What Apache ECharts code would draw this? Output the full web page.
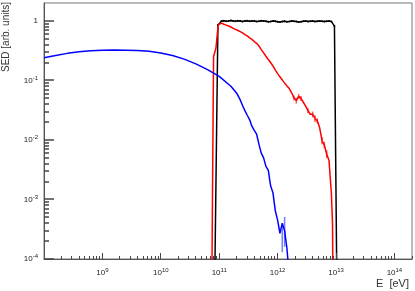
<!DOCTYPE html>
<html><head><meta charset="utf-8">
<script src="https://cdn.jsdelivr.net/npm/echarts@6/dist/echarts.min.js"></script>
<style>html,body{margin:0;padding:0;background:#fff}#c{width:415px;height:291px}</style>
</head><body><div id="c"></div>
<script>
// shared energy grid (eV), 0.04 dex spacing from 1.1e11 to 8.3e12
const gridEnergy = [1.096e11,1.202e11,1.318e11,1.445e11,1.585e11,1.738e11,1.905e11,2.089e11,2.291e11,2.512e11,2.754e11,3.020e11,3.311e11,3.631e11,3.981e11,4.365e11,4.786e11,5.248e11,5.754e11,6.310e11,6.918e11,7.586e11,8.318e11,9.120e11,
  1.000e12,1.096e12,1.202e12,1.318e12,1.445e12,1.585e12,1.738e12,1.905e12,2.089e12,2.291e12,2.512e12,2.754e12,3.020e12,3.311e12,3.631e12,3.981e12,4.365e12,4.786e12,5.248e12,5.754e12,6.310e12,6.918e12,7.586e12,8.318e12];
const blackValues = [1.00,1.01,0.99,1.00,1.02,1.00,0.99,1.01,1.00,0.98,1.00,1.01,0.99,1.00,1.00,0.98,0.99,1.01,1.00,0.99,0.97,0.98,1.00,0.99,
  0.97,0.96,0.98,0.99,0.97,0.98,1.00,0.99,0.98,0.96,0.97,0.99,1.00,0.98,0.99,1.00,0.98,0.99,1.00,0.99,0.98,0.99,1.00,0.98];
const blackLead = [[8.0e10,1e-6],[9.5e10,0.85]];
const blackTail = [[9.4e12,0.82],[1.07e13,1e-6]];

const redValues = [0.92,0.88,0.85,0.82,0.79,0.75,0.72,0.69,0.66,0.63,0.59,0.56,0.52,0.49,0.45,0.42,0.38,0.33,0.29,0.255,0.225,0.20,0.175,0.15,
  0.13,0.115,0.102,0.090,0.081,0.073,0.062,0.051,0.046,0.054,0.050,0.043,0.037,0.031,0.027,0.027,0.023,0.021,0.016,0.0098,0.0082,0.0058,0.0045,0.0013];
const redLead = [[7.4e10,1e-5],[8.0e10,0.25],[8.8e10,0.35],[9.6e10,0.86]];
const redTail = [[8.71e12,0.0004],[9.12e12,1e-6]];
const redErrors = [[1.905e12,0.046,0.056],[2.089e12,0.041,0.051],[2.291e12,0.049,0.059],[2.512e12,0.045,0.055],[3.311e12,0.028,0.034],
  [3.981e12,0.024,0.030],[4.365e12,0.020,0.026],[4.786e12,0.019,0.023],[5.754e12,0.0085,0.0112],[6.310e12,0.0072,0.0093],[6.918e12,0.0050,0.0067]];

const blueEnergy = [1.0e8,1.585e8,2.512e8,3.981e8,6.310e8,1e9,1.585e9,2.512e9,3.981e9,6.310e9,1e10,1.585e10,2.512e10,3.981e10,6.310e10,1e11,1.585e11,1.995e11,2.291e11,
  2.512e11,2.754e11,3.020e11,3.311e11,3.631e11,3.981e11,4.365e11,4.786e11,5.248e11,5.754e11,6.310e11,6.918e11,7.586e11,8.318e11,9.120e11,1.000e12,1.096e12,1.202e12,1.318e12,1.445e12,1.585e12];
const blueValues = [0.240,0.262,0.285,0.303,0.316,0.322,0.324,0.323,0.319,0.308,0.290,0.262,0.228,0.190,0.152,0.117,0.080,0.061,0.047,
  0.038,0.031,0.026,0.022,0.017,0.0145,0.0125,0.0085,0.0060,0.0050,0.0036,0.0031,0.0017,0.0013,0.00065,0.00045,0.00027,0.00040,0.00030,0.00015,0.00005];
const blueErrors = [[1.202e12,1.3e-4,3.7e-4],[1.318e12,1.6e-4,5.1e-4]];

const X_MIN = 1e8, X_MAX = 2e14, Y_MIN = 1e-4, Y_MAX = 2;
const xMajorVals = [1e9, 1e10, 1e11, 1e12, 1e13, 1e14];
const yMajorVals = [1e-4, 1e-3, 1e-2, 1e-1, 1];

const xMinorVals = [], yMinorVals = [];
for (let n = 8; n <= 13; n++) for (let k = 2; k <= 9; k++) xMinorVals.push(k * Math.pow(10, n));
xMinorVals.push(2e14);
for (let n = -4; n <= -1; n++) for (let k = 2; k <= 9; k++) yMinorVals.push(k * Math.pow(10, n));

const pair = (xs, ys) => xs.map((x, i) => [x, ys[i]]);
const blackData = blackLead.concat(pair(gridEnergy, blackValues), blackTail);
const redData = redLead.concat(pair(gridEnergy, redValues), redTail);
const blueData = pair(blueEnergy, blueValues);

const FONT = 'Liberation Sans, Arial, Helvetica, sans-serif';
const TICK = '#444';

function fmt(v) {
  const e = Math.round(Math.log10(v));
  if (e === 0) return '1';
  return '10{sup|' + e + '}';
}
const richLab = { sup: { fontSize: 6, fontFamily: FONT, color: '#222', padding: [0, 0, 5, 0], verticalAlign: 'bottom' } };

function errSeries(data, color) {
  return {
    type: 'custom', silent: true, z: 3, data: data,
    encode: { x: 0, y: [1, 2] },
    renderItem: function (params, api) {
      const a = api.coord([api.value(0), api.value(1)]);
      const b = api.coord([api.value(0), api.value(2)]);
      return { type: 'line', shape: { x1: a[0], y1: a[1], x2: b[0], y2: b[1] }, style: { stroke: color, lineWidth: 1.5 } };
    }
  };
}

const titles = [
  { type: 'text', x: 6, y: 2, rotation: Math.PI / 2, silent: true,
    style: { text: 'SED [arb. units]', fontSize: 10, fontFamily: FONT, fill: '#333', align: 'right', verticalAlign: 'middle' } },
  { type: 'text', x: 409, y: 284, silent: true,
    style: { text: 'E  [eV]', fontSize: 11, fontFamily: FONT, fill: '#333', align: 'right', verticalAlign: 'middle' } }
];

const chart = echarts.init(document.getElementById('c'), null, { renderer: 'canvas' });
chart.setOption({
  animation: false,
  backgroundColor: '#fff',
  grid: { left: 44, top: 3, width: 368, height: 256, show: true, borderColor: '#777', borderWidth: 1,
    containLabel: false, outerBoundsMode: 'none' },
  xAxis: {
    type: 'log', logBase: 10, min: X_MIN, max: X_MAX, interval: 1,
    axisLine: { show: true, lineStyle: { color: '#555', width: 1 } },
    axisTick: { show: false },
    splitLine: { show: false },
    axisLabel: { show: true, margin: 8, fontSize: 8, fontFamily: FONT, color: '#222', showMinLabel: false, showMaxLabel: false,
      formatter: fmt, rich: richLab }
  },
  yAxis: {
    type: 'log', logBase: 10, min: Y_MIN, max: Y_MAX, interval: 1,
    axisLine: { show: true, lineStyle: { color: '#555', width: 1 } },
    axisTick: { show: false },
    splitLine: { show: false },
    axisLabel: { show: true, margin: 6, fontSize: 8, fontFamily: FONT, color: '#222', showMinLabel: true, showMaxLabel: false,
      formatter: fmt, rich: richLab }
  },
  series: [
    { type: 'line', data: blackData, showSymbol: true, symbol: 'circle', symbolSize: 2, itemStyle: { color: '#000' },
      lineStyle: { color: '#000', width: 1.5 }, z: 2, silent: true },
    errSeries(redErrors, '#ff5050'),
    { type: 'line', data: redData, showSymbol: false, lineStyle: { color: '#ff0000', width: 1.5 }, z: 3, silent: true },
    errSeries(blueErrors, '#6f7fff'),
    { type: 'line', data: blueData, showSymbol: false, lineStyle: { color: '#0000ff', width: 1.5 }, z: 4, silent: true }
  ]
});

// ticks placed through the axes' own scales (filled rects)
const tickEls = [];
let x0 = chart.convertToPixel({ xAxisIndex: 0 }, X_MIN);
if (!isFinite(x0)) x0 = chart.convertToPixel({ xAxisIndex: 0, yAxisIndex: 0 }, [X_MIN, 1])[0];
let y0 = chart.convertToPixel({ yAxisIndex: 0 }, Y_MIN);
if (!isFinite(y0)) y0 = chart.convertToPixel({ xAxisIndex: 0, yAxisIndex: 0 }, [1e9, Y_MIN])[1];
function xTick(v, len) {
  const px = chart.convertToPixel({ xAxisIndex: 0 }, v);
  tickEls.push({ type: 'rect', silent: true, z: 50,
    shape: { x: Math.floor(px), y: Math.round(y0) - len, width: 1, height: len }, style: { fill: TICK } });
}
function yTick(v, len) {
  const py = chart.convertToPixel({ yAxisIndex: 0 }, v);
  tickEls.push({ type: 'rect', silent: true, z: 50,
    shape: { x: Math.round(x0), y: Math.round(py) - 0.75, width: len, height: 1.5 }, style: { fill: TICK } });
}
xMinorVals.forEach(function (v) { xTick(v, 3); });
xMajorVals.forEach(function (v) { xTick(v, 6); });
yMinorVals.forEach(function (v) { yTick(v, 5); });
yMajorVals.forEach(function (v) { yTick(v, 10); });
chart.setOption({ graphic: titles.concat(tickEls) });
</script></body></html>
